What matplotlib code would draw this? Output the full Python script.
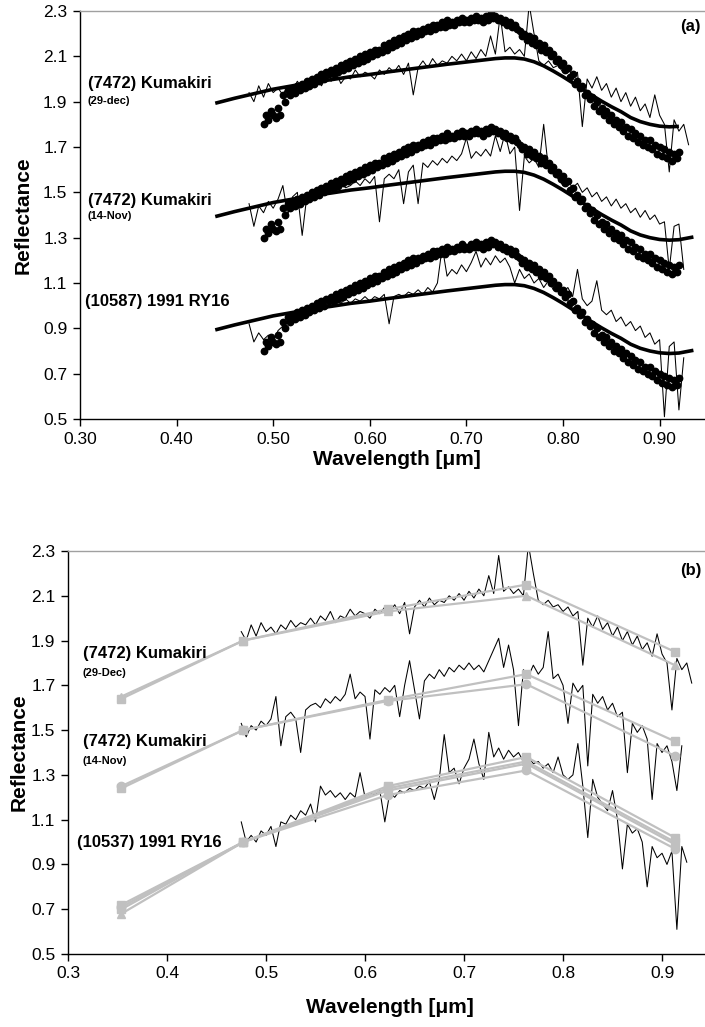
import numpy as np
import matplotlib
matplotlib.use("Agg")
import matplotlib.pyplot as plt
from matplotlib.ticker import FormatStrFormatter

plt.rcParams['font.family'] = ['Liberation Sans', 'DejaVu Sans']

# noisy spectra, one value every 0.005 um starting at 0.475 um
SPEC_START = 0.475
SPEC_STEP = 0.005

kum_dec = [1.94, 1.90, 1.97, 1.92, 1.98, 1.94, 1.96, 1.93, 1.97, 1.95,
           1.99, 1.96, 1.98, 1.97, 2.00, 1.97, 2.01, 1.99, 2.03, 1.98,
           2.01, 2.00, 2.04, 2.01, 2.03, 2.02, 2.00, 2.04, 2.02, 2.05,
           2.03, 2.06, 2.02, 2.07, 1.93, 2.05, 2.08, 2.05, 2.09, 2.06,
           2.08, 2.07, 2.10, 2.08, 2.11, 2.08, 2.12, 2.09, 2.13, 2.10,
           2.19, 2.11, 2.28, 2.12, 2.14, 2.11, 2.13, 2.10, 2.33, 2.20,
           2.08, 2.06, 2.08, 2.05, 2.06, 2.03, 2.05, 2.01, 2.03, 1.79,
           2.00, 1.96, 2.01, 1.95, 1.98, 1.92, 1.96, 1.90, 1.94, 1.88,
           1.92, 1.86, 1.89, 1.83, 1.93, 1.84, 1.80, 1.59, 1.82, 1.77,
           1.80, 1.71]

# panel (a) versions
kum_nov_a = [1.45, 1.35, 1.44, 1.41, 1.46, 1.43, 1.47, 1.53, 1.40, 1.48,
             1.50, 1.31, 1.49, 1.51, 1.50, 1.52, 1.51, 1.53, 1.52, 1.54,
             1.52, 1.53, 1.55, 1.53, 1.56, 1.54, 1.57, 1.37, 1.56, 1.58,
             1.56, 1.60, 1.45, 1.59, 1.62, 1.45, 1.63, 1.61, 1.64, 1.62,
             1.65, 1.63, 1.66, 1.64, 1.67, 1.74, 1.65, 1.68, 1.66, 1.69,
             1.66, 1.75, 1.68, 1.76, 1.67, 1.70, 1.42, 1.66, 1.63, 1.65,
             1.61, 1.80, 1.60, 1.58, 1.56, 1.53, 1.55, 1.52, 1.54, 1.50,
             1.52, 1.48, 1.50, 1.46, 1.48, 1.44, 1.47, 1.43, 1.45, 1.41,
             1.43, 1.39, 1.42, 1.38, 1.40, 1.36, 1.37, 1.16, 1.35, 1.36,
             1.16]

ry16_a = [0.92, 0.84, 0.88, 0.85, 0.87, 0.84, 0.89, 0.91, 0.93, 0.95,
          0.97, 0.96, 0.99, 0.98, 1.01, 0.99, 1.02, 1.00, 1.02, 1.01,
          1.03, 1.01, 1.03, 1.02, 1.04, 1.02, 1.04, 1.03, 1.05, 0.92,
          1.04, 1.05, 1.04, 1.06, 1.05, 1.07, 1.05, 1.08, 1.06, 1.10,
          1.26, 1.13, 1.16, 1.14, 1.18, 1.15, 1.19, 1.24, 1.17, 1.21,
          1.18, 1.22, 1.19, 1.21, 1.17, 1.10, 1.16, 1.12, 1.14, 1.10,
          1.12, 1.08, 1.11, 1.07, 1.09, 1.06, 1.08, 1.04, 1.16, 1.03,
          1.00, 1.02, 1.11, 0.98, 0.96, 0.98, 0.93, 0.95, 0.91, 0.93,
          0.89, 0.91, 0.86, 0.88, 0.83, 0.85, 0.51, 0.82, 0.84, 0.54,
          0.77]

# panel (b) versions
kum_nov_b = [1.53, 1.47, 1.52, 1.50, 1.54, 1.52, 1.55, 1.65, 1.43, 1.56,
             1.58, 1.55, 1.40, 1.59, 1.61, 1.62, 1.60, 1.64, 1.62, 1.65,
             1.63, 1.66, 1.75, 1.64, 1.67, 1.65, 1.46, 1.68, 1.66, 1.69,
             1.67, 1.70, 1.56, 1.70, 1.81, 1.68, 1.55, 1.72, 1.75, 1.73,
             1.77, 1.74, 1.78, 1.76, 1.79, 1.77, 1.80, 1.77, 1.79, 1.76,
             1.81, 1.86, 1.91, 1.78, 1.88, 1.77, 1.52, 1.77, 1.74, 1.79,
             1.75, 1.78, 1.94, 1.73, 1.75, 1.70, 1.53, 1.71, 1.67, 1.70,
             1.34, 1.66, 1.62, 1.65, 1.59, 1.62, 1.56, 1.58, 1.31, 1.53,
             1.49, 1.52, 1.46, 1.19, 1.44, 1.40, 1.43, 1.36, 1.23, 1.43]

ry16_b = [1.09, 1.00, 1.03, 1.00, 1.05, 1.03, 1.07, 0.98, 1.09, 1.08,
          1.12, 1.10, 1.14, 1.12, 1.17, 1.09, 1.25, 1.21, 1.23, 1.20,
          1.22, 1.19, 1.22, 1.20, 1.31, 1.20, 1.22, 1.21, 1.23, 1.09,
          1.22, 1.20, 1.23, 1.22, 1.24, 1.23, 1.25, 1.24, 1.27, 1.19,
          1.28, 1.48, 1.31, 1.33, 1.26, 1.33, 1.37, 1.46, 1.35, 1.28,
          1.49, 1.38, 1.42, 1.37, 1.41, 1.38, 1.40, 1.36, 1.38, 1.35,
          1.36, 1.33, 1.35, 1.31, 1.38, 1.30, 1.28, 1.30, 1.44, 1.25,
          1.02, 1.28, 1.20, 1.17, 1.14, 1.23, 1.10, 0.88, 1.08, 1.04,
          1.06, 1.00, 0.80, 0.98, 0.93, 0.95, 0.90, 0.96, 0.61, 0.98,
          0.91]

# comparison spectrum (dots), every 0.0025 um from 0.49 um, at the 29-dec level
DOT_START = 0.49
DOT_STEP = 0.0025
dots = [1.80, 1.84, 1.82, 1.86, 1.84, 1.83, 1.87, 1.84, 1.93, 1.90,
        1.95, 1.93, 1.96, 1.94, 1.97, 1.95, 1.98, 1.96, 1.99, 1.97,
        2.00, 1.98, 2.01, 1.99, 2.02, 2.00, 2.03, 2.02, 2.04, 2.02,
        2.05, 2.03, 2.06, 2.04, 2.07, 2.05, 2.08, 2.06, 2.09, 2.07,
        2.10, 2.08, 2.11, 2.09, 2.12, 2.10, 2.13, 2.11, 2.13, 2.12,
        2.15, 2.13, 2.16, 2.14, 2.17, 2.15, 2.18, 2.16, 2.19, 2.17,
        2.20, 2.18, 2.21, 2.19, 2.21, 2.20, 2.22, 2.21, 2.23, 2.21,
        2.24, 2.22, 2.24, 2.23, 2.25, 2.23, 2.26, 2.24, 2.25, 2.24,
        2.26, 2.25, 2.27, 2.25, 2.26, 2.25, 2.27, 2.26, 2.28, 2.26,
        2.27, 2.25, 2.28, 2.26, 2.29, 2.27, 2.28, 2.26, 2.27, 2.25,
        2.26, 2.24, 2.25, 2.23, 2.24, 2.22, 2.21, 2.19, 2.20, 2.17,
        2.19, 2.16, 2.18, 2.15, 2.16, 2.13, 2.15, 2.12, 2.13, 2.10,
        2.11, 2.08, 2.09, 2.06, 2.07, 2.04, 2.05, 2.01, 2.02, 1.98,
        1.99, 1.96, 1.97, 1.93, 1.94, 1.91, 1.92, 1.88, 1.90, 1.86,
        1.87, 1.84, 1.86, 1.82, 1.84, 1.80, 1.82, 1.79, 1.81, 1.77,
        1.79, 1.75, 1.78, 1.74, 1.76, 1.72, 1.75, 1.71, 1.73, 1.70,
        1.73, 1.69, 1.71, 1.67, 1.70, 1.66, 1.69, 1.65, 1.68, 1.64,
        1.67, 1.65, 1.68]

# smooth model curve (thick line), at the RY16 level
model_wl = [0.44, 0.46, 0.48, 0.50, 0.52, 0.54, 0.56, 0.58, 0.60, 0.62,
            0.64, 0.66, 0.68, 0.70, 0.71, 0.72, 0.73, 0.74, 0.75, 0.76,
            0.77, 0.78, 0.79, 0.80, 0.81, 0.82, 0.83, 0.84, 0.85, 0.86,
            0.87, 0.88, 0.89, 0.90, 0.91, 0.92, 0.935]
model = [0.893, 0.915, 0.935, 0.955, 0.970, 0.985, 0.997, 1.010, 1.020, 1.032,
         1.043, 1.054, 1.065, 1.075, 1.080, 1.085, 1.090, 1.093, 1.093, 1.088,
         1.076, 1.058, 1.035, 1.010, 0.983, 0.955, 0.928, 0.902, 0.878, 0.856,
         0.830, 0.812, 0.800, 0.792, 0.789, 0.791, 0.803]

group_shift = [1.0, 0.5, 0.0]   # 29-dec, 14-Nov, RY16

# SDSS colours converted to reflectance (panel b)
sdss_wl = [0.354, 0.477, 0.623, 0.763, 0.913]
phot_dec = [[1.64, 1.90, 2.04, 2.15, 1.85],
            [1.65, 1.90, 2.03, 2.10, 1.79]]
phot_nov = [[1.24, 1.50, 1.635, 1.75, 1.45],
            [1.25, 1.50, 1.63, 1.705, 1.385]]
phot_ry16 = [[0.72, 1.00, 1.25, 1.38, 1.02],
             [0.68, 1.00, 1.23, 1.35, 0.99],
             [0.71, 1.00, 1.21, 1.32, 0.97],
             [0.70, 1.00, 1.24, 1.36, 1.00]]
phot_markers = [['s', '^'], ['s', 'o'], ['s', '^', 'o', 's']]

GREY = '#c0c0c0'


def spec_x(vals, start, step):
    return start + step * np.arange(len(vals))


def style(ax, xmax, xfmt, xticks):
    ax.set_xlim(0.30, xmax)
    ax.set_ylim(0.5, 2.3)
    ax.set_xticks(xticks)
    ax.set_yticks(np.arange(0.5, 2.31, 0.2))
    ax.xaxis.set_major_formatter(FormatStrFormatter(xfmt))
    ax.yaxis.set_major_formatter(FormatStrFormatter('%.1f'))
    ax.spines['right'].set_visible(False)
    ax.spines['top'].set_color('#a0a0a0')
    for s in ['left', 'bottom', 'top']:
        ax.spines[s].set_linewidth(1.0)
    ax.tick_params(direction='out', length=5, width=1, labelsize=12.5, pad=4)
    ax.set_ylabel('Reflectance', fontsize=15, fontweight='bold')
    ax.set_xlabel('Wavelength [\u03bcm]', fontsize=15, fontweight='bold')


fig = plt.figure(figsize=(7.05, 10.27), dpi=100)

# ---- panel (a)
ax1 = fig.add_axes([80 / 705, 1 - 419 / 1027, 625 / 705, 408 / 1027])
thin_a = [kum_dec, kum_nov_a, ry16_a]
dx = spec_x(dots, DOT_START, DOT_STEP)
for i, sh in enumerate(group_shift):
    ax1.plot(dx, np.array(dots) + sh - 1.0, 'o', color='black', ms=4.6,
             mec='black', zorder=2)
    sp = thin_a[i]
    ax1.plot(spec_x(sp, SPEC_START, SPEC_STEP), sp, color='black', lw=0.75, zorder=3)
    mw = model_wl if i > 0 else model_wl[:-1]
    mv = model if i > 0 else model[:-1]
    ax1.plot(mw, np.array(mv) + sh, color='black', lw=2.6, zorder=4,
             solid_capstyle='butt')

style(ax1, 0.947, '%.2f', np.arange(0.3, 0.91, 0.1))
ax1.yaxis.set_label_coords(-0.076, 0.5)
ax1.xaxis.set_label_coords(0.507, -0.075)

ax1.text(0.308, 1.98, '(7472) Kumakiri', fontsize=12, fontweight='bold', va='center')
ax1.text(0.308, 1.905, '(29-dec)', fontsize=8, fontweight='bold', va='center')
ax1.text(0.308, 1.465, '(7472) Kumakiri', fontsize=12, fontweight='bold', va='center')
ax1.text(0.308, 1.395, '(14-Nov)', fontsize=8, fontweight='bold', va='center')
ax1.text(0.305, 1.02, '(10587) 1991 RY16', fontsize=12, fontweight='bold', va='center')
ax1.text(0.942, 2.23, '(a)', fontsize=12, fontweight='bold', va='center', ha='right')

# ---- panel (b)
ax2 = fig.add_axes([68 / 705, 1 - 954 / 1027, 637 / 705, 403 / 1027])
for sp in [kum_dec, kum_nov_b, ry16_b]:
    ax2.plot(spec_x(sp, SPEC_START, SPEC_STEP), sp, color='black', lw=0.75, zorder=2)
for grp, marks in zip([phot_dec, phot_nov, phot_ry16], phot_markers):
    for vals, m in zip(grp, marks):
        ax2.plot(sdss_wl, vals, color=GREY, lw=1.6, marker=m, ms=6,
                 mfc=GREY, mec=GREY, zorder=3)

style(ax2, 0.9434, '%.1f', np.arange(0.3, 0.91, 0.1))
ax2.yaxis.set_label_coords(-0.062, 0.5)
ax2.xaxis.set_label_coords(0.505, -0.11)

ax2.text(0.315, 1.84, '(7472) Kumakiri', fontsize=12, fontweight='bold', va='center')
ax2.text(0.315, 1.755, '(29-Dec)', fontsize=8, fontweight='bold', va='center')
ax2.text(0.315, 1.448, '(7472) Kumakiri', fontsize=12, fontweight='bold', va='center')
ax2.text(0.315, 1.36, '(14-Nov)', fontsize=8, fontweight='bold', va='center')
ax2.text(0.309, 0.996, '(10537) 1991 RY16', fontsize=12, fontweight='bold', va='center')
ax2.text(0.940, 2.215, '(b)', fontsize=12, fontweight='bold', va='center', ha='right')

fig.savefig('out.png', dpi=100)
